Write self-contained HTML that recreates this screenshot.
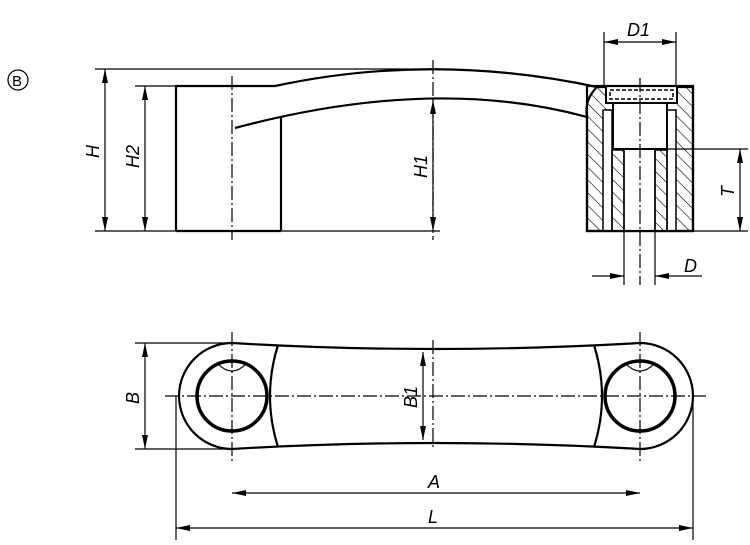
<!DOCTYPE html>
<html><head><meta charset="utf-8"><style>
html,body{margin:0;padding:0;background:#fff;width:750px;height:545px;overflow:hidden}
text{font-family:"Liberation Sans",sans-serif;font-style:italic;font-size:18px;fill:#000}
</style></head><body>
<svg width="750" height="545" viewBox="0 0 750 545" xmlns="http://www.w3.org/2000/svg">
<defs>
<marker id="a" viewBox="0 0 14 6" refX="14" refY="3" markerWidth="14" markerHeight="6" orient="auto-start-reverse" markerUnits="userSpaceOnUse"><path d="M0,0 L14,3 L0,6 z" fill="#000"/></marker>
<pattern id="h" width="9" height="9" patternUnits="userSpaceOnUse" patternTransform="rotate(-45)"><line x1="0" y1="0" x2="0" y2="9" stroke="#000" stroke-width="1.2"/></pattern>
</defs>
<circle cx="18" cy="80" r="10" stroke-width="1.2" fill="none" stroke="#000"/>
<text x="12" y="86" style="font-style:normal;font-size:15px">B</text>

<!-- SIDE VIEW -->
<g fill="none" stroke="#000" stroke-width="2.2">
<path d="M176,231 V86 H275 Q433,52 597,87"/>
<path d="M235,128 Q433,75 587,117"/>
<line x1="281" y1="117" x2="281" y2="231"/>
<line x1="176" y1="231" x2="281" y2="231"/>
</g>
<g stroke="#000">
<path d="M587,231 V117 Q584,100 597,87 H693 V231 Z" fill="url(#h)" stroke-width="2.2"/>
<rect x="606" y="86" width="70" height="146" fill="#fff" stroke="none"/>
<rect x="603" y="110" width="9" height="121" fill="#fff" stroke-width="1.5"/>
<rect x="667" y="110" width="9" height="121" fill="#fff" stroke-width="1.5"/>
<rect x="612" y="150" width="12" height="81" fill="url(#h)" stroke-width="1.5"/>
<rect x="655" y="150" width="12" height="81" fill="url(#h)" stroke-width="1.5"/>
<path d="M606,86 H677 V103 H606 Z" fill="#fff" stroke-width="2"/>
<path d="M610,90 H673 V99 H610 Z" fill="none" stroke-width="1.5" stroke-dasharray="4 2"/>
<path d="M613,103 V149 H667 V103" fill="none" stroke-width="2"/>
<line x1="624" y1="150" x2="624" y2="231" stroke-width="1.5"/>
<line x1="655" y1="150" x2="655" y2="231" stroke-width="1.5"/>
<rect x="587" y="86" width="106" height="145" fill="none" stroke-width="2.2"/>
</g>
<g stroke="#000" stroke-width="1.2" stroke-dasharray="14 3 2 3" fill="none">
<line x1="232" y1="76" x2="232" y2="240"/>
<line x1="433" y1="60" x2="433" y2="240"/>
<line x1="640" y1="78" x2="640" y2="285"/>
<line x1="232" y1="332" x2="232" y2="462"/>
<line x1="433" y1="340" x2="433" y2="450"/>
<line x1="640" y1="332" x2="640" y2="462"/>
<line x1="165" y1="396" x2="706" y2="396"/>
</g>
<g stroke="#000" stroke-width="1.2" fill="none">
<line x1="95" y1="69" x2="440" y2="69"/>
<line x1="95" y1="231" x2="440" y2="231"/>
<line x1="135" y1="86" x2="176" y2="86"/>
<line x1="105" y1="69" x2="105" y2="231" marker-start="url(#a)" marker-end="url(#a)"/>
<line x1="145" y1="86" x2="145" y2="231" marker-start="url(#a)" marker-end="url(#a)"/>
<line x1="433" y1="100" x2="433" y2="231" marker-start="url(#a)" marker-end="url(#a)"/>
<line x1="604" y1="32" x2="604" y2="86"/>
<line x1="676" y1="32" x2="676" y2="86"/>
<line x1="604" y1="42" x2="676" y2="42" marker-start="url(#a)" marker-end="url(#a)"/>
<line x1="667" y1="149" x2="748" y2="149"/>
<line x1="693" y1="231" x2="748" y2="231"/>
<line x1="740" y1="149" x2="740" y2="231" marker-start="url(#a)" marker-end="url(#a)"/>
<line x1="624" y1="231" x2="624" y2="285"/>
<line x1="655" y1="231" x2="655" y2="285"/>
<line x1="592" y1="276" x2="624" y2="276" marker-end="url(#a)"/>
<line x1="702" y1="276" x2="655" y2="276" marker-end="url(#a)"/>
</g>
<text transform="translate(99,158) rotate(-90)">H</text>
<text transform="translate(139,168) rotate(-90)">H2</text>
<text transform="translate(427,178) rotate(-90)">H1</text>
<text x="627" y="36">D1</text>
<text transform="translate(734,197) rotate(-90)">T</text>
<text x="684" y="272">D</text>

<!-- PLAN VIEW -->
<g fill="none" stroke="#000" stroke-width="2.2">
<path d="M232,343 Q433,355 640,343 A53,53 0 0 1 640,449 Q433,437 232,449 A53,53 0 0 1 232,343 Z"/>
<path d="M278,345 Q262,396 278,447"/>
<path d="M594,345 Q610,396 594,447"/>
</g>
<g fill="none" stroke="#000" stroke-width="3.5">
<circle cx="232" cy="396" r="35"/>
<circle cx="640" cy="396" r="35"/>
</g>
<g fill="none" stroke="#000" stroke-width="1.2">
<path d="M218,364 Q232,378 246,364"/>
<path d="M626,364 Q640,378 654,364"/>
</g>
<g stroke="#000" stroke-width="1.2" fill="none">
<line x1="135" y1="343" x2="232" y2="343"/>
<line x1="135" y1="449" x2="232" y2="449"/>
<line x1="145" y1="343" x2="145" y2="449" marker-start="url(#a)" marker-end="url(#a)"/>
<line x1="423" y1="352" x2="423" y2="440" marker-start="url(#a)" marker-end="url(#a)"/>
<line x1="176" y1="396" x2="176" y2="540"/>
<line x1="693" y1="396" x2="693" y2="540"/>
<line x1="232" y1="493" x2="640" y2="493" marker-start="url(#a)" marker-end="url(#a)"/>
<line x1="176" y1="528" x2="693" y2="528" marker-start="url(#a)" marker-end="url(#a)"/>
</g>
<text transform="translate(139,404) rotate(-90)">B</text>
<text transform="translate(417,408) rotate(-90)">B1</text>
<text x="428" y="488">A</text>
<text x="428" y="523">L</text>
</svg>
</body></html>
